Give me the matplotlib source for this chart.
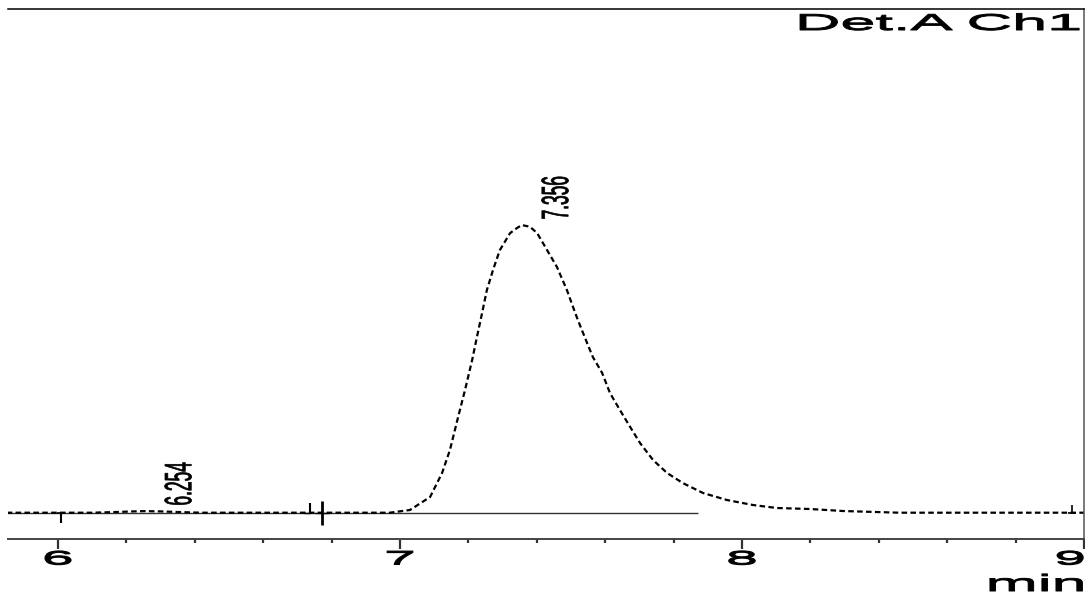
import numpy as np
import matplotlib
matplotlib.use("Agg")
import matplotlib.pyplot as plt
from matplotlib.patheffects import AbstractPathEffect
from matplotlib.transforms import Affine2D
from matplotlib.ticker import MultipleLocator

plt.rcParams['font.family'] = ['Liberation Sans', 'DejaVu Sans']

# ---- data ----
time_min = [5.85, 6.00, 6.10, 6.16, 6.22, 6.254, 6.30, 6.36, 6.42, 6.80, 6.97,
            7.029, 7.088, 7.123, 7.146, 7.170, 7.190, 7.211, 7.225, 7.240,
            7.254, 7.272, 7.292, 7.322, 7.340, 7.356, 7.380, 7.401, 7.430,
            7.459, 7.488, 7.506, 7.520, 7.547, 7.564, 7.591, 7.614, 7.643,
            7.673, 7.702, 7.740, 7.781, 7.827, 7.886, 7.956, 8.032, 8.102,
            8.199, 8.295, 8.46, 9.00]
signal = [0.0, 0.0, 0.0, 0.2, 0.45, 0.55, 0.45, 0.2, 0.0, 0.0, 0.0,
          0.94, 5.46, 13.8, 21.8, 33.3, 42.6, 53.1, 61.1, 69.4,
          77.4, 84.4, 91.3, 97.2, 98.8, 100.0, 99.4, 97.2, 91.3,
          85.4, 77.4, 71.5, 67.0, 59.0, 54.1, 48.6, 41.6, 35.7,
          29.8, 24.2, 18.3, 13.8, 10.3, 6.85, 4.41, 2.68, 1.63,
          1.29, 0.59, 0.0, 0.0]

baseline_time = [5.85, 7.87]
baseline_level = [0.0, 0.0]

peak_times = [6.254, 7.356]
peak_heights = [0.55, 100.0]
peak_labels = ['6.254', '7.356']

start_marks = [6.01]
mid_marks_a = [6.737]
mid_marks_b = [6.772]
end_marks = [8.965]

major_ticks = [6, 7, 8, 9]
tick_labels = ['6', '7', '8', '9']


class HStretch(AbstractPathEffect):
    """Draw text glyphs stretched horizontally (the reference is a widened image),
    with an optional thin outline to thicken the strokes."""
    def __init__(self, sx=2.0, anchor='center', stroke=0.0):
        super().__init__()
        self.sx = sx
        self.anchor = anchor
        self.stroke = stroke

    def draw_path(self, renderer, gc, tpath, affine, rgbFace=None):
        if len(tpath.vertices) == 0:
            return
        bb = tpath.get_extents(affine)
        if self.anchor == 'right':
            cx = bb.x1
        elif self.anchor == 'left':
            cx = bb.x0
        else:
            cx = 0.5 * (bb.x0 + bb.x1)
        new = affine + Affine2D().translate(-cx, 0).scale(self.sx, 1).translate(cx, 0)
        gc0 = renderer.new_gc()
        gc0.copy_properties(gc)
        if self.stroke > 0 and rgbFace is not None:
            gc0.set_linewidth(self.stroke)
            gc0.set_foreground(rgbFace)
        renderer.draw_path(gc0, tpath, new, rgbFace)
        gc0.restore()


W, H = 1085, 597
fig = plt.figure(figsize=(W / 100, H / 100), dpi=100)
fig.patch.set_facecolor('white')
ax = fig.add_axes([8 / W, 1 - 539 / H, (1084 - 8) / W, (539 - 9) / H])

# integration baseline and signal
ax.plot(baseline_time, baseline_level, color='#333333', lw=1.0, solid_capstyle='butt')
ax.plot(time_min, signal, color='black', lw=1.6, ls=(0, (2.5, 1.5)))

# event marks on the baseline
ax.plot(start_marks, [0] * len(start_marks), ls='none', marker=3, ms=7, mew=1.5, color='black')
ax.plot(start_marks, [0] * len(start_marks), ls='none', marker='_', ms=6, mew=1.2, color='black')
ax.plot(mid_marks_a, [0] * len(mid_marks_a), ls='none', marker=2, ms=7, mew=1.5, color='black')
ax.plot(mid_marks_a, [0] * len(mid_marks_a), ls='none', marker=0, ms=4, mew=1.0, color='black')
ax.plot(mid_marks_b, [0] * len(mid_marks_b), ls='none', marker='|', ms=17, mew=2.0, color='black')
ax.plot(mid_marks_b, [0] * len(mid_marks_b), ls='none', marker='_', ms=10, mew=1.0, color='black')
ax.plot(end_marks, [0] * len(end_marks), ls='none', marker=2, ms=6, mew=1.2, color='black')
ax.plot(end_marks, [0] * len(end_marks), ls='none', marker='_', ms=6, mew=1.2, color='black')

# peak retention time labels
for t, h, lab in zip(peak_times, peak_heights, peak_labels):
    ax.annotate(lab, xy=(t, h), xytext=(25, 4), textcoords='offset points',
                rotation=90, ha='center', va='bottom', fontsize=12.5, color='black',
                path_effects=[HStretch(2.2, 'center', stroke=0.5)])

# axes limits and spines
ax.set_xlim(5.8538, 9.0)
ax.set_ylim(-9.14, 175.1)
ax.spines['left'].set_visible(False)
ax.spines['top'].set_color('black')
ax.spines['top'].set_linewidth(1.1)
ax.spines['right'].set_color('#555555')
ax.spines['right'].set_linewidth(1.1)
ax.spines['bottom'].set_color('#444444')
ax.spines['bottom'].set_linewidth(1.4)
ax.set_yticks([])

ax.set_xticks(major_ticks)
ax.set_xticklabels(tick_labels)
ax.xaxis.set_minor_locator(MultipleLocator(0.2))
ax.tick_params(axis='x', which='major', length=7, width=1.6, color='#333333',
               labelsize=14, pad=2)
ax.tick_params(axis='x', which='minor', length=3, width=1.6, color='#333333')

for i, tick in enumerate(ax.xaxis.get_major_ticks()):
    lbl = tick.label1
    if i == len(major_ticks) - 1:
        lbl.set_horizontalalignment('right')
        lbl.set_path_effects([HStretch(2.9, 'right', stroke=0.8)])
    else:
        lbl.set_path_effects([HStretch(2.9, 'center', stroke=0.8)])

fig.text(1080 / W, 1 - 30 / H, 'Det.A Ch1', ha='right', va='baseline', fontsize=16.5,
         color='black', path_effects=[HStretch(2.75, 'right', stroke=0.7)])
fig.text(1084 / W, 1 - 591 / H, 'min', ha='right', va='baseline', fontsize=17,
         color='black', path_effects=[HStretch(2.65, 'right', stroke=0.7)])

fig.savefig('out.png', dpi=100, facecolor='white')
